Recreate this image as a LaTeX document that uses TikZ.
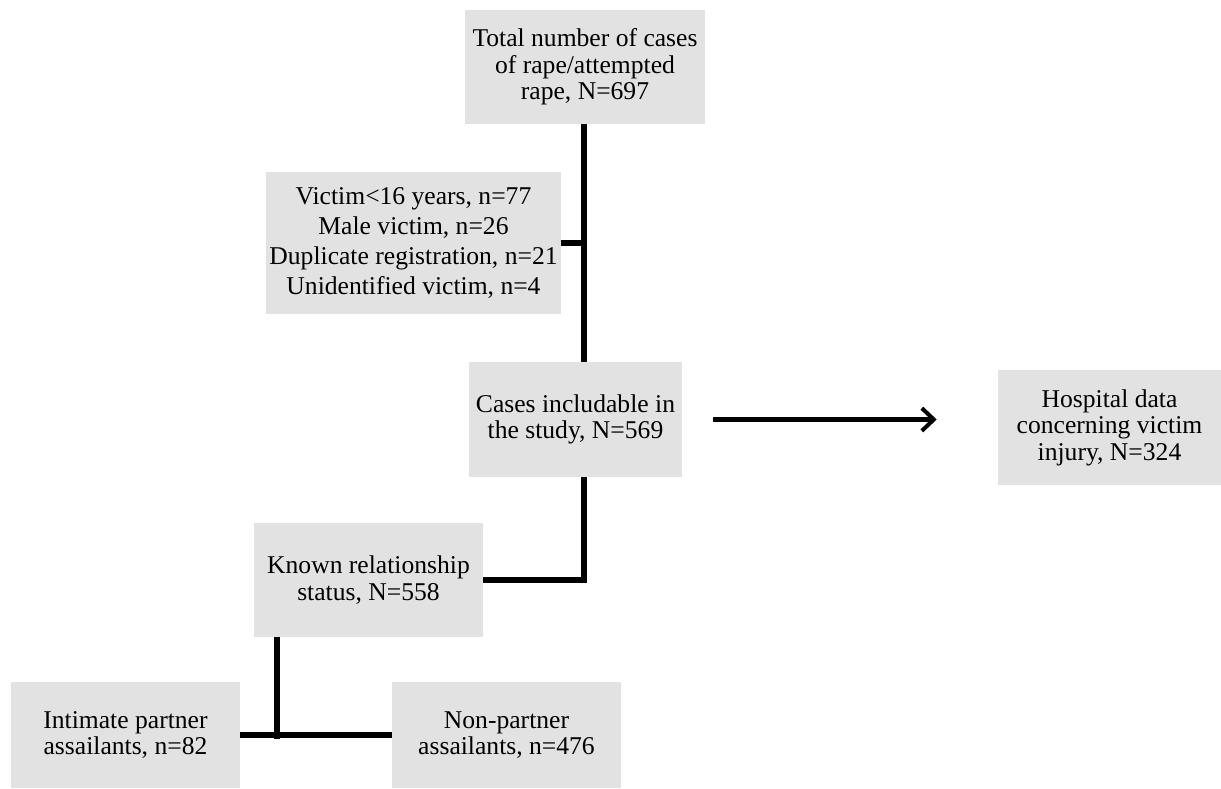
\documentclass[tikz,border=0pt]{standalone}
\usepackage{fontspec}
\setmainfont{Liberation Serif}
\usepackage{xcolor}
\usetikzlibrary{arrows.meta}
\definecolor{boxgray}{RGB}{226,226,226}

\begin{document}
\begin{tikzpicture}[x=0.75pt,y=-0.75pt,font=\fontsize{19.2}{19.8}\selectfont,
  box/.style={fill=boxgray,inner sep=0pt,align=center},
  conn/.style={line width=3.8pt},
  arr/.style={line width=3.8pt,-{Straight Barb[length=9pt,width=17pt,line width=3pt]}}]
\useasboundingbox (0,0) rectangle (1221,789);
% boxes
\node[box,minimum width=180pt,minimum height=85.5pt] (total) at (585,67)
  {Total number of cases\\of rape/attempted\\rape, N=697};
\node[box,minimum width=221.25pt,minimum height=106.5pt,
  font=\fontsize{19.2}{22.5}\selectfont] (excl) at (413.5,243)
  {Victim<16 years, n=77\\Male victim, n=26\\Duplicate registration, n=21\\Unidentified victim, n=4};
\node[box,minimum width=159.75pt,minimum height=86.25pt] (incl) at (575.5,419.5)
  {Cases includable in\\the study, N=569};
\node[box,minimum width=167.25pt,minimum height=86.25pt] (hosp) at (1109.5,427.5)
  {Hospital data\\concerning victim\\injury, N=324};
\node[box,minimum width=171.75pt,minimum height=85.5pt] (known) at (368.5,580)
  {Known relationship\\status, N=558};
\node[box,minimum width=171.75pt,minimum height=79.5pt] (partner) at (125.5,735)
  {Intimate partner\\assailants, n=82};
\node[box,minimum width=171.75pt,minimum height=79.5pt] (nonpartner) at (506.5,735)
  {Non-partner\\assailants, n=476};
% connectors
\coordinate (sp) at (584,0);
\coordinate (br) at (277,739);
\draw[conn] (total.south -| sp) -- (incl.north -| sp);
\draw[conn] (excl.east) -- (excl.east -| sp);
\draw[conn] (incl.south -| sp) |- (known.east);
\draw[conn] (known.south -| br) -- (br);
\draw[conn] (partner.east) -- (nonpartner.west);
\draw[arr] ([xshift=23.25pt]incl.east) -- ([xshift=-45.75pt]incl.east -| hosp.west);
\end{tikzpicture}
\end{document}
